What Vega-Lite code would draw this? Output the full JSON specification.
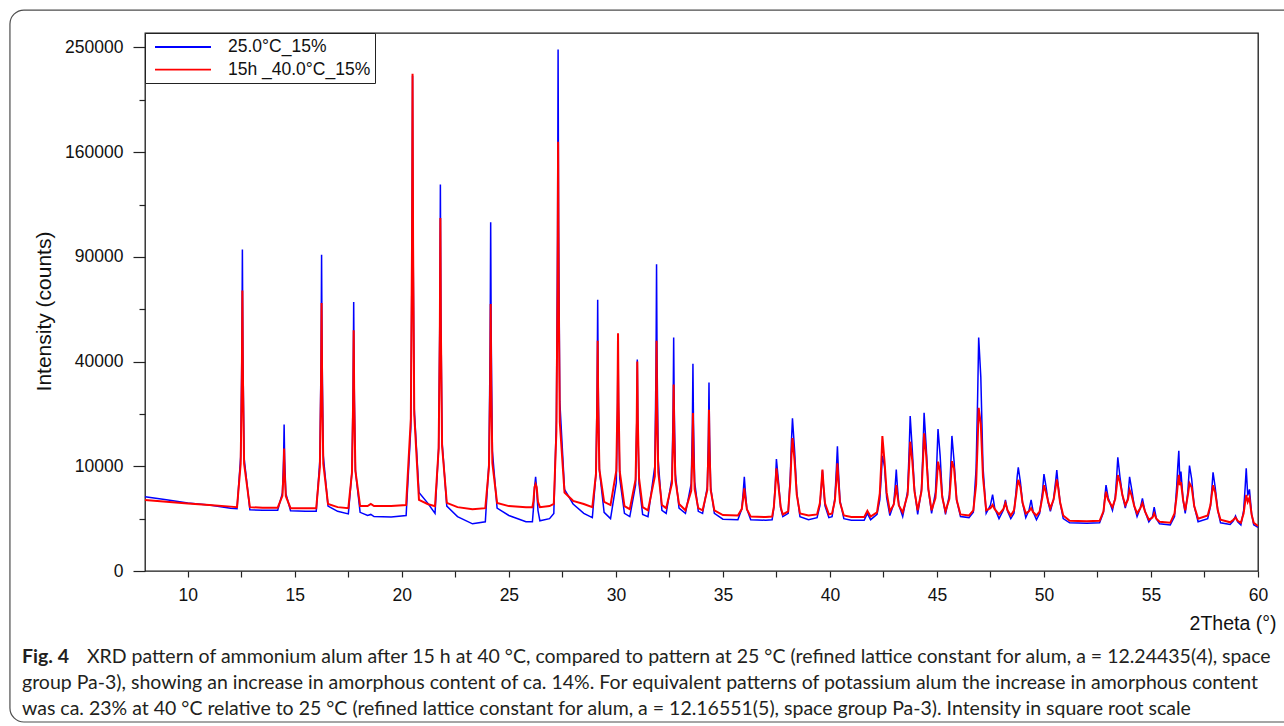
{
  "$schema": "https://vega.github.io/schema/vega-lite/v6.json",
  "description": "XRD patterns of ammonium alum at 25 °C and after 15 h at 40 °C, intensity on a square-root axis.",
  "width": 1113,
  "height": 538,
  "autosize": {"type": "none"},
  "padding": {"left": 145, "top": 33, "right": 26, "bottom": 155},
  "background": "white",
  "config": {
    "view": {"stroke": "#1a1a1a", "strokeWidth": 1.3},
    "font": "Liberation Sans",
    "axis": {
      "labelFont": "Liberation Sans",
      "titleFont": "Liberation Sans",
      "labelColor": "#111111",
      "titleColor": "#111111",
      "tickColor": "#222222",
      "tickWidth": 1.2,
      "grid": false,
      "domain": false
    }
  },
  "title": {
    "text": "Fig. 4",
    "subtitle": [
      "\u200b\u00a0\u00a0\u00a0\u00a0\u00a0\u00a0\u00a0\u00a0\u00a0\u00a0\u00a0\u00a0\u00a0XRD pattern of ammonium alum after 15 h at 40 °C, compared to pattern at 25 °C (refined lattice constant for alum, a = 12.24435(4), space",
      "group Pa-3), showing an increase in amorphous content of ca. 14%. For equivalent patterns of potassium alum the increase in amorphous content",
      "was ca. 23% at 40 °C relative to 25 °C (refined lattice constant for alum, a = 12.16551(5), space group Pa-3). Intensity in square root scale"
    ],
    "orient": "bottom",
    "anchor": "start",
    "frame": "group",
    "dx": -123,
    "offset": -75,
    "font": "Lato",
    "fontSize": 19.5,
    "fontWeight": "bold",
    "color": "#231f20",
    "subtitleFont": "Lato",
    "subtitleFontSize": 19.5,
    "subtitleColor": "#231f20",
    "subtitleLineHeight": 26,
    "subtitlePadding": -19.5
  },
  "data": {
    "values": [
      {"t": 8.0, "b": 5040, "r": 4600},
      {"t": 9.0, "b": 4620, "r": 4360},
      {"t": 10.0, "b": 4230, "r": 4160},
      {"t": 11.0, "b": 3970, "r": 3970},
      {"t": 12.0, "b": 3600, "r": 3780},
      {"t": 12.3, "b": 3540, "r": 3720},
      {"t": 12.47, "b": 11900, "r": 10490},
      {"t": 12.525, "b": 43300, "r": 34300},
      {"t": 12.55, "b": 94250, "r": 71800},
      {"t": 12.575, "b": 43100, "r": 34300},
      {"t": 12.63, "b": 11700, "r": 10490},
      {"t": 12.9, "b": 3420, "r": 3720},
      {"t": 13.5, "b": 3360, "r": 3660},
      {"t": 14.2, "b": 3360, "r": 3660},
      {"t": 14.42, "b": 5540, "r": 5160},
      {"t": 14.475, "b": 11490, "r": 8910},
      {"t": 14.5, "b": 19600, "r": 13700},
      {"t": 14.525, "b": 11450, "r": 8870},
      {"t": 14.58, "b": 5480, "r": 5100},
      {"t": 14.8, "b": 3310, "r": 3600},
      {"t": 15.5, "b": 3250, "r": 3600},
      {"t": 16.0, "b": 3250, "r": 3600},
      {"t": 16.17, "b": 11240, "r": 9840},
      {"t": 16.225, "b": 41600, "r": 31540},
      {"t": 16.25, "b": 91200, "r": 65500},
      {"t": 16.275, "b": 42440, "r": 32110},
      {"t": 16.33, "b": 12100, "r": 10490},
      {"t": 16.55, "b": 3840, "r": 4100},
      {"t": 17.0, "b": 3250, "r": 3720},
      {"t": 17.5, "b": 2970, "r": 3600},
      {"t": 17.67, "b": 9030, "r": 8840},
      {"t": 17.725, "b": 30980, "r": 26240},
      {"t": 17.75, "b": 66000, "r": 52900},
      {"t": 17.775, "b": 31190, "r": 26500},
      {"t": 17.83, "b": 9250, "r": 9140},
      {"t": 18.05, "b": 3140, "r": 3840},
      {"t": 18.4, "b": 2810, "r": 3840},
      {"t": 18.55, "b": 2920, "r": 4100},
      {"t": 18.7, "b": 2700, "r": 3840},
      {"t": 19.5, "b": 2650, "r": 3840},
      {"t": 20.2, "b": 2810, "r": 3970},
      {"t": 20.42, "b": 18770, "r": 21140},
      {"t": 20.475, "b": 93000, "r": 96220},
      {"t": 20.5, "b": 223700, "r": 225600},
      {"t": 20.525, "b": 98470, "r": 97470},
      {"t": 20.58, "b": 23900, "r": 22320},
      {"t": 20.8, "b": 5630, "r": 4620},
      {"t": 21.2, "b": 4230, "r": 4100},
      {"t": 21.55, "b": 3030, "r": 3840},
      {"t": 21.72, "b": 13880, "r": 13690},
      {"t": 21.775, "b": 59240, "r": 51530},
      {"t": 21.8, "b": 136200, "r": 113600},
      {"t": 21.825, "b": 60610, "r": 52070},
      {"t": 21.88, "b": 15230, "r": 14260},
      {"t": 22.1, "b": 3840, "r": 4230},
      {"t": 22.6, "b": 2700, "r": 3720},
      {"t": 23.3, "b": 2030, "r": 3480},
      {"t": 23.9, "b": 2210, "r": 3600},
      {"t": 24.07, "b": 10860, "r": 9800},
      {"t": 24.125, "b": 47790, "r": 31330},
      {"t": 24.15, "b": 110900, "r": 65000},
      {"t": 24.175, "b": 50090, "r": 32040},
      {"t": 24.23, "b": 13130, "r": 10610},
      {"t": 24.45, "b": 3600, "r": 4230},
      {"t": 25.0, "b": 2810, "r": 3840},
      {"t": 25.8, "b": 2210, "r": 3720},
      {"t": 26.1, "b": 2210, "r": 3720},
      {"t": 26.15, "b": 3600, "r": 4490},
      {"t": 26.2, "b": 6400, "r": 6400},
      {"t": 26.25, "b": 8100, "r": 6890},
      {"t": 26.3, "b": 6080, "r": 6400},
      {"t": 26.36, "b": 3360, "r": 4360},
      {"t": 26.45, "b": 2300, "r": 3720},
      {"t": 26.9, "b": 2500, "r": 3840},
      {"t": 27.1, "b": 3030, "r": 4100},
      {"t": 27.22, "b": 20620, "r": 17740},
      {"t": 27.275, "b": 102900, "r": 73770},
      {"t": 27.3, "b": 248000, "r": 168100},
      {"t": 27.325, "b": 108900, "r": 76180},
      {"t": 27.38, "b": 26240, "r": 20160},
      {"t": 27.6, "b": 6080, "r": 5630},
      {"t": 28.0, "b": 4100, "r": 4490},
      {"t": 28.5, "b": 3030, "r": 4100},
      {"t": 28.9, "b": 2600, "r": 3720},
      {"t": 29.07, "b": 8570, "r": 8610},
      {"t": 29.125, "b": 30910, "r": 24460},
      {"t": 29.15, "b": 67100, "r": 48400},
      {"t": 29.175, "b": 31610, "r": 25090},
      {"t": 29.23, "b": 9330, "r": 9370},
      {"t": 29.45, "b": 3140, "r": 4360},
      {"t": 29.75, "b": 2500, "r": 3970},
      {"t": 30.02, "b": 7120, "r": 9180},
      {"t": 30.075, "b": 23470, "r": 26050},
      {"t": 30.1, "b": 49300, "r": 51500},
      {"t": 30.125, "b": 24090, "r": 25920},
      {"t": 30.18, "b": 7810, "r": 9030},
      {"t": 30.4, "b": 3030, "r": 3840},
      {"t": 30.65, "b": 2700, "r": 3480},
      {"t": 30.92, "b": 6720, "r": 7600},
      {"t": 30.975, "b": 20160, "r": 20620},
      {"t": 31.0, "b": 40800, "r": 40000},
      {"t": 31.025, "b": 20390, "r": 20850},
      {"t": 31.08, "b": 6990, "r": 7890},
      {"t": 31.25, "b": 2920, "r": 3720},
      {"t": 31.5, "b": 2700, "r": 3360},
      {"t": 31.82, "b": 10040, "r": 8170},
      {"t": 31.875, "b": 38650, "r": 24090},
      {"t": 31.9, "b": 85800, "r": 48400},
      {"t": 31.925, "b": 39600, "r": 24710},
      {"t": 31.98, "b": 11030, "r": 8910},
      {"t": 32.15, "b": 3360, "r": 3970},
      {"t": 32.35, "b": 3030, "r": 3600},
      {"t": 32.62, "b": 7850, "r": 6990},
      {"t": 32.675, "b": 24270, "r": 17110},
      {"t": 32.7, "b": 49700, "r": 31700},
      {"t": 32.725, "b": 24900, "r": 17530},
      {"t": 32.78, "b": 8570, "r": 7530},
      {"t": 32.95, "b": 3600, "r": 4100},
      {"t": 33.25, "b": 3030, "r": 3360},
      {"t": 33.52, "b": 6990, "r": 5870},
      {"t": 33.575, "b": 19820, "r": 12950},
      {"t": 33.6, "b": 39200, "r": 22800},
      {"t": 33.625, "b": 20050, "r": 13130},
      {"t": 33.68, "b": 7260, "r": 6120},
      {"t": 33.85, "b": 3250, "r": 3600},
      {"t": 34.05, "b": 3030, "r": 3360},
      {"t": 34.27, "b": 6400, "r": 5960},
      {"t": 34.325, "b": 16900, "r": 13360},
      {"t": 34.35, "b": 32400, "r": 23700},
      {"t": 34.375, "b": 16900, "r": 13360},
      {"t": 34.43, "b": 6400, "r": 5960},
      {"t": 34.6, "b": 3030, "r": 3360},
      {"t": 35.0, "b": 2450, "r": 2860},
      {"t": 35.7, "b": 2400, "r": 2810},
      {"t": 35.88, "b": 3510, "r": 3490},
      {"t": 35.95, "b": 5720, "r": 4860},
      {"t": 36.0, "b": 8100, "r": 6240},
      {"t": 36.05, "b": 5720, "r": 4860},
      {"t": 36.12, "b": 3510, "r": 3490},
      {"t": 36.3, "b": 2400, "r": 2700},
      {"t": 37.0, "b": 2350, "r": 2650},
      {"t": 37.3, "b": 2400, "r": 2700},
      {"t": 37.38, "b": 3670, "r": 3750},
      {"t": 37.45, "b": 7020, "r": 6340},
      {"t": 37.5, "b": 11450, "r": 9600},
      {"t": 37.6, "b": 7200, "r": 6400},
      {"t": 37.7, "b": 3600, "r": 3720},
      {"t": 37.8, "b": 2700, "r": 2920},
      {"t": 38.05, "b": 3030, "r": 3250},
      {"t": 38.15, "b": 8350, "r": 7230},
      {"t": 38.2, "b": 15130, "r": 11990},
      {"t": 38.25, "b": 21300, "r": 16100},
      {"t": 38.35, "b": 13200, "r": 11000},
      {"t": 38.45, "b": 5630, "r": 5330},
      {"t": 38.6, "b": 2700, "r": 3030},
      {"t": 39.0, "b": 2400, "r": 2810},
      {"t": 39.4, "b": 2600, "r": 2920},
      {"t": 39.53, "b": 3880, "r": 4190},
      {"t": 39.6, "b": 6440, "r": 6720},
      {"t": 39.65, "b": 9200, "r": 9400},
      {"t": 39.7, "b": 6440, "r": 6720},
      {"t": 39.77, "b": 3880, "r": 4190},
      {"t": 39.95, "b": 2600, "r": 2920},
      {"t": 40.1, "b": 2700, "r": 3030},
      {"t": 40.23, "b": 4800, "r": 4490},
      {"t": 40.3, "b": 9380, "r": 7430},
      {"t": 40.35, "b": 14200, "r": 10600},
      {"t": 40.4, "b": 9000, "r": 7310},
      {"t": 40.47, "b": 4520, "r": 4290},
      {"t": 40.65, "b": 2500, "r": 2810},
      {"t": 41.0, "b": 2350, "r": 2650},
      {"t": 41.6, "b": 2350, "r": 2650},
      {"t": 41.75, "b": 3030, "r": 3300},
      {"t": 41.9, "b": 2400, "r": 2700},
      {"t": 42.2, "b": 2920, "r": 3140},
      {"t": 42.33, "b": 4620, "r": 5510},
      {"t": 42.4, "b": 8170, "r": 10700},
      {"t": 42.45, "b": 12100, "r": 16600},
      {"t": 42.55, "b": 10000, "r": 11000},
      {"t": 42.65, "b": 4900, "r": 5630},
      {"t": 42.8, "b": 2810, "r": 3250},
      {"t": 42.98, "b": 4100, "r": 4000},
      {"t": 43.05, "b": 6660, "r": 5370},
      {"t": 43.1, "b": 9400, "r": 6720},
      {"t": 43.15, "b": 6600, "r": 5310},
      {"t": 43.22, "b": 4000, "r": 3910},
      {"t": 43.4, "b": 2700, "r": 3140},
      {"t": 43.63, "b": 5780, "r": 5310},
      {"t": 43.7, "b": 13090, "r": 9980},
      {"t": 43.75, "b": 21900, "r": 15250},
      {"t": 43.85, "b": 13200, "r": 11000},
      {"t": 43.95, "b": 6080, "r": 5780},
      {"t": 44.1, "b": 2920, "r": 3360},
      {"t": 44.28, "b": 6120, "r": 5840},
      {"t": 44.35, "b": 13690, "r": 11190},
      {"t": 44.4, "b": 22800, "r": 17300},
      {"t": 44.5, "b": 13900, "r": 12100},
      {"t": 44.6, "b": 6080, "r": 6080},
      {"t": 44.75, "b": 3030, "r": 3360},
      {"t": 44.93, "b": 5630, "r": 4840},
      {"t": 45.0, "b": 11510, "r": 7780},
      {"t": 45.05, "b": 18360, "r": 10900},
      {"t": 45.15, "b": 12100, "r": 9000},
      {"t": 45.25, "b": 5180, "r": 4900},
      {"t": 45.4, "b": 2920, "r": 3250},
      {"t": 45.58, "b": 5290, "r": 4760},
      {"t": 45.65, "b": 10560, "r": 7780},
      {"t": 45.7, "b": 16640, "r": 11000},
      {"t": 45.8, "b": 11000, "r": 9600},
      {"t": 45.92, "b": 4620, "r": 4620},
      {"t": 46.1, "b": 2700, "r": 2920},
      {"t": 46.5, "b": 2600, "r": 2810},
      {"t": 46.7, "b": 3140, "r": 3360},
      {"t": 46.83, "b": 9560, "r": 6810},
      {"t": 46.9, "b": 27060, "r": 14810},
      {"t": 46.95, "b": 49700, "r": 24300},
      {"t": 47.05, "b": 34200, "r": 19600},
      {"t": 47.15, "b": 10000, "r": 8100},
      {"t": 47.3, "b": 3030, "r": 3360},
      {"t": 47.5, "b": 3970, "r": 3600},
      {"t": 47.6, "b": 5330, "r": 3970},
      {"t": 47.7, "b": 3600, "r": 3480},
      {"t": 47.9, "b": 2500, "r": 2920},
      {"t": 48.1, "b": 3360, "r": 3480},
      {"t": 48.2, "b": 4620, "r": 4220},
      {"t": 48.3, "b": 3250, "r": 3360},
      {"t": 48.45, "b": 2500, "r": 2810},
      {"t": 48.6, "b": 3030, "r": 3360},
      {"t": 48.7, "b": 5930, "r": 5260},
      {"t": 48.75, "b": 8140, "r": 6590},
      {"t": 48.8, "b": 9800, "r": 7570},
      {"t": 48.9, "b": 7200, "r": 6400},
      {"t": 49.0, "b": 4230, "r": 4230},
      {"t": 49.15, "b": 2600, "r": 3030},
      {"t": 49.3, "b": 3360, "r": 3250},
      {"t": 49.4, "b": 4620, "r": 3600},
      {"t": 49.5, "b": 3140, "r": 3140},
      {"t": 49.65, "b": 2400, "r": 2810},
      {"t": 49.8, "b": 3030, "r": 3250},
      {"t": 49.93, "b": 5720, "r": 5010},
      {"t": 50.0, "b": 8560, "r": 6720},
      {"t": 50.1, "b": 6400, "r": 5630},
      {"t": 50.2, "b": 4230, "r": 4360},
      {"t": 50.3, "b": 3250, "r": 3600},
      {"t": 50.45, "b": 4740, "r": 4660},
      {"t": 50.55, "b": 7500, "r": 6500},
      {"t": 50.6, "b": 9300, "r": 7660},
      {"t": 50.65, "b": 7230, "r": 6720},
      {"t": 50.75, "b": 4360, "r": 4360},
      {"t": 50.9, "b": 2500, "r": 2810},
      {"t": 51.2, "b": 2120, "r": 2300},
      {"t": 52.0, "b": 2070, "r": 2260},
      {"t": 52.6, "b": 2120, "r": 2300},
      {"t": 52.78, "b": 3140, "r": 3250},
      {"t": 52.85, "b": 5180, "r": 4760},
      {"t": 52.9, "b": 6720, "r": 5730},
      {"t": 53.0, "b": 4900, "r": 4620},
      {"t": 53.2, "b": 3360, "r": 3720},
      {"t": 53.33, "b": 4990, "r": 4720},
      {"t": 53.4, "b": 8260, "r": 6560},
      {"t": 53.45, "b": 11800, "r": 8410},
      {"t": 53.55, "b": 8100, "r": 7220},
      {"t": 53.67, "b": 5180, "r": 5180},
      {"t": 53.8, "b": 3600, "r": 3970},
      {"t": 53.92, "b": 4900, "r": 4620},
      {"t": 54.0, "b": 8100, "r": 5990},
      {"t": 54.1, "b": 6080, "r": 5180},
      {"t": 54.22, "b": 3840, "r": 3840},
      {"t": 54.35, "b": 2700, "r": 3030},
      {"t": 54.5, "b": 3600, "r": 3600},
      {"t": 54.6, "b": 4820, "r": 4190},
      {"t": 54.72, "b": 3250, "r": 3250},
      {"t": 54.9, "b": 2210, "r": 2400},
      {"t": 55.07, "b": 2700, "r": 2600},
      {"t": 55.15, "b": 3720, "r": 3030},
      {"t": 55.25, "b": 2500, "r": 2500},
      {"t": 55.4, "b": 2030, "r": 2210},
      {"t": 55.9, "b": 1940, "r": 2120},
      {"t": 56.1, "b": 2700, "r": 3030},
      {"t": 56.2, "b": 6460, "r": 5110},
      {"t": 56.25, "b": 9850, "r": 6810},
      {"t": 56.3, "b": 13200, "r": 8410},
      {"t": 56.35, "b": 7230, "r": 6720},
      {"t": 56.4, "b": 9000, "r": 7200},
      {"t": 56.5, "b": 4620, "r": 4620},
      {"t": 56.6, "b": 3030, "r": 3360},
      {"t": 56.72, "b": 5630, "r": 5180},
      {"t": 56.8, "b": 10120, "r": 7020},
      {"t": 56.9, "b": 7740, "r": 6400},
      {"t": 57.02, "b": 3840, "r": 3840},
      {"t": 57.2, "b": 2210, "r": 2500},
      {"t": 57.65, "b": 2500, "r": 2810},
      {"t": 57.78, "b": 3840, "r": 3970},
      {"t": 57.85, "b": 6400, "r": 5480},
      {"t": 57.9, "b": 8890, "r": 6720},
      {"t": 58.0, "b": 6400, "r": 5630},
      {"t": 58.12, "b": 3360, "r": 3360},
      {"t": 58.25, "b": 2120, "r": 2400},
      {"t": 58.7, "b": 1980, "r": 2160},
      {"t": 58.85, "b": 2300, "r": 2400},
      {"t": 58.95, "b": 2760, "r": 2600},
      {"t": 59.05, "b": 2210, "r": 2300},
      {"t": 59.2, "b": 1940, "r": 2120},
      {"t": 59.33, "b": 3360, "r": 3030},
      {"t": 59.4, "b": 6400, "r": 4360},
      {"t": 59.45, "b": 9600, "r": 5270},
      {"t": 59.52, "b": 5180, "r": 4360},
      {"t": 59.6, "b": 6080, "r": 4900},
      {"t": 59.7, "b": 3030, "r": 2920},
      {"t": 59.8, "b": 1940, "r": 2120},
      {"t": 60.0, "b": 1740, "r": 1850}
    ]
  },
  "layer": [
    {
      "description": "Rounded frame around the whole figure and its caption.",
      "data": {"values": [{}]},
      "mark": {"type": "rect", "fillOpacity": 0, "stroke": "#4d4d4d", "strokeWidth": 1.2, "cornerRadius": 14, "clip": false},
      "encoding": {
        "x": {"datum": 1.69, "type": "quantitative", "scale": {"domain": [8, 60], "nice": false, "zero": false}, "axis": null},
        "x2": {"datum": 62.5},
        "y": {"datum": 287000, "type": "quantitative", "scale": {"type": "sqrt", "domain": [0, 264000], "nice": false}, "axis": null},
        "y2": {"datum": -20800}
      }
    },
    {
      "mark": {"type": "line", "strokeWidth": 1.5, "color": "#0000ff"},
      "encoding": {
        "x": {
          "field": "t",
          "type": "quantitative",
          "scale": {"domain": [8, 60], "nice": false, "zero": false},
          "axis": {
            "orient": "bottom",
            "values": [10, 12.5, 15, 17.5, 20, 22.5, 25, 27.5, 30, 32.5, 35, 37.5, 40, 42.5, 45, 47.5, 50, 52.5, 55, 57.5, 60],
            "labelExpr": "datum.value % 5 === 0 ? datum.label : ''",
            "tickSize": 6,
            "labelPadding": 9,
            "labelFontSize": 17.5,
            "labelFlush": false,
            "labelOverlap": false,
            "title": "2Theta (°)",
            "titleFontSize": 19.5,
            "titleFontWeight": "normal",
            "titleAlign": "right",
            "titleBaseline": "middle",
            "titleX": 1131,
            "titleY": 52
          }
        },
        "y": {
          "field": "b",
          "type": "quantitative",
          "scale": {"type": "sqrt", "domain": [0, 264000], "nice": false},
          "axis": {
            "orient": "left",
            "values": [0, 10000, 40000, 90000, 160000, 250000],
            "format": "d",
            "tickSize": 12,
            "labelPadding": 10,
            "labelFontSize": 17.5,
            "labelOverlap": false,
            "title": "Intensity (counts)",
            "titleFontSize": 21,
            "titleFontWeight": "normal",
            "titlePadding": 10,
            "titleY": 278
          }
        },
        "color": {
          "datum": "25.0°C_15%",
          "type": "nominal",
          "scale": {"domain": ["25.0°C_15%", "15h _40.0°C_15%"], "range": ["#0000ff", "#ff0000"]},
          "legend": {
            "orient": "top-left",
            "offset": 0,
            "title": null,
            "symbolType": "M-3.11,0H3.11",
            "symbolSize": 324,
            "symbolOffset": 24,
            "symbolStrokeWidth": 1.8,
            "labelFont": "Liberation Sans",
            "labelFontSize": 17.5,
            "labelColor": "#111111",
            "labelOffset": 35,
            "labelLimit": 300,
            "strokeColor": "#222222",
            "fillColor": "white",
            "padding": 4,
            "rowPadding": 3.7
          }
        }
      }
    },
    {
      "mark": {"type": "line", "strokeWidth": 2, "color": "#ff0000"},
      "encoding": {
        "x": {"field": "t", "type": "quantitative", "scale": {"domain": [8, 60], "nice": false, "zero": false}, "axis": null},
        "y": {
          "field": "r",
          "type": "quantitative",
          "scale": {"type": "sqrt", "domain": [0, 264000], "nice": false},
          "axis": {
            "orient": "left",
            "values": [2500, 22500, 62500, 122500, 202500],
            "labels": false,
            "tickSize": 6,
            "title": null
          }
        },
        "color": {"datum": "15h _40.0°C_15%", "type": "nominal"}
      }
    }
  ],
  "resolve": {"axis": {"x": "independent", "y": "independent"}}
}
